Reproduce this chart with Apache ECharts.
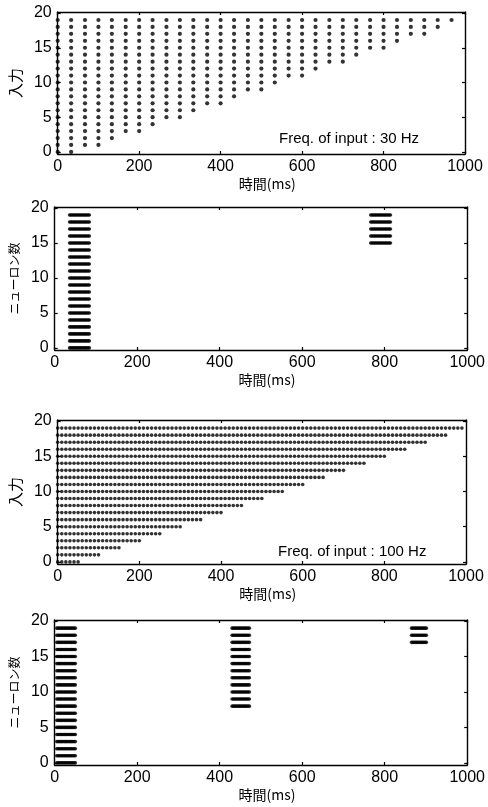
<!DOCTYPE html>
<html>
<head>
<meta charset="utf-8">
<script src="https://cdn.jsdelivr.net/npm/echarts@6/dist/echarts.min.js"></script>
<style>
  html, body { margin: 0; padding: 0; background: #fff; }
  #main { width: 488px; height: 807px; }
</style>
</head>
<body>
<div id="main"></div>
<script>
// tick labels
const xTicks = [0, 200, 400, 600, 800, 1000]
const yTicks = [0, 5, 10, 15, 20]
const neuronIds = [0, 1, 2, 3, 4, 5, 6, 7, 8, 9, 10, 11, 12, 13, 14, 15, 16, 17, 18, 19]

// input at 30 Hz: spike columns and the lowest input that still fires in each
const inputTimes30 = [0, 33, 67, 100, 133, 167, 200, 233, 267, 300, 333, 367, 400, 433, 467,
  500, 533, 567, 600, 633, 667, 700, 733, 767, 800, 833, 867, 900, 933, 967]
const inputFirst30 = [0, 0, 1, 1, 2, 3, 3, 4, 5, 5, 6, 7, 7, 8, 9,
  9, 10, 11, 11, 12, 13, 13, 14, 15, 15, 16, 17, 17, 18, 19]

// input at 100 Hz: spike times and the last spike of each input row
const inputTimes100 = [0, 10, 20, 30, 40, 50, 60, 70, 80, 90, 100, 110, 120, 130, 140, 150, 160, 170, 180, 190,
  200, 210, 220, 230, 240, 250, 260, 270, 280, 290, 300, 310, 320, 330, 340, 350, 360, 370, 380, 390,
  400, 410, 420, 430, 440, 450, 460, 470, 480, 490, 500, 510, 520, 530, 540, 550, 560, 570, 580, 590,
  600, 610, 620, 630, 640, 650, 660, 670, 680, 690, 700, 710, 720, 730, 740, 750, 760, 770, 780, 790,
  800, 810, 820, 830, 840, 850, 860, 870, 880, 890, 900, 910, 920, 930, 940, 950, 960, 970, 980, 990]
const inputLast100 = [50, 100, 150, 200, 250, 300, 350, 400, 450, 500,
  550, 600, 650, 700, 750, 800, 850, 900, 950, 990]

// output bursts, 30 Hz input
const burstTimes30A = [36, 39, 42, 45, 48, 51, 54, 57, 60, 63, 66, 69, 72, 75, 78, 81, 84]
const burstNeurons30A = [0, 1, 2, 3, 4, 5, 6, 7, 8, 9, 10, 11, 12, 13, 14, 15, 16, 17, 18, 19]
const burstTimes30B = [766, 769, 772, 775, 778, 781, 784, 787, 790, 793, 796, 799, 802, 805, 808, 811, 814]
const burstNeurons30B = [15, 16, 17, 18, 19]

// output bursts, 100 Hz input
const burstTimes100A = [5, 8, 11, 14, 17, 20, 23, 26, 29, 32, 35, 38, 41, 44, 47, 50]
const burstNeurons100A = [0, 1, 2, 3, 4, 5, 6, 7, 8, 9, 10, 11, 12, 13, 14, 15, 16, 17, 18, 19]
const burstTimes100B = [430, 433, 436, 439, 442, 445, 448, 451, 454, 457, 460, 463, 466, 469, 472]
const burstNeurons100B = [8, 9, 10, 11, 12, 13, 14, 15, 16, 17, 18, 19]
const burstTimes100C = [865, 868, 871, 874, 877, 880, 883, 886, 889, 892, 895, 898, 901]
const burstNeurons100C = [17, 18, 19]

function columnsData(times, first) {
  const out = []
  times.forEach((t, k) => {
    neuronIds.forEach(n => {
      if (n >= first[k]) out.push([t, n])
    })
  })
  return out
}

function rowsData(times, last) {
  const out = []
  neuronIds.forEach(n => {
    times.forEach(t => {
      if (t <= last[n]) out.push([t, n])
    })
  })
  return out
}

function burstData(times, neurons) {
  const out = []
  neurons.forEach(n => {
    times.forEach(t => out.push([t, n]))
  })
  return out
}

const jp = '"Noto Sans CJK JP", sans-serif'
const num = '"Liberation Sans", Arial, sans-serif'

const panels = [
  { left: 49, top: 12, width: 416, height: 142, yName: '入力', yNameSize: 15, yGap: 26 },
  { left: 50, top: 207, width: 418, height: 143, yName: 'ニューロン数', yNameSize: 12, yGap: 28 },
  { left: 52, top: 420, width: 414, height: 144, yName: '入力', yNameSize: 15, yGap: 29 },
  { left: 54, top: 620, width: 414, height: 145, yName: 'ニューロン数', yNameSize: 12, yGap: 31 }
]

const grid = []
const xAxis = []
const yAxis = []
const lineStyle = { color: '#000', width: 1.4 }
const tick = { inside: true, length: 3, lineStyle: { color: '#000', width: 1.2 } }

panels.forEach((p, i) => {
  grid.push({ left: p.left, top: p.top, width: p.width, height: p.height })
  xAxis.push({
    gridIndex: i, type: 'value', min: 0, max: 1000, interval: 200,
    name: '時間(ms)', nameLocation: 'middle', nameGap: 23,
    nameTextStyle: { fontFamily: jp, fontSize: 14, color: '#000', padding: [0, 0, 0, 12] },
    axisLine: { onZero: false, lineStyle: lineStyle },
    axisTick: tick,
    axisLabel: { fontFamily: num, fontSize: 16, color: '#000', margin: 5, formatter: v => String(v) },
    splitLine: { show: false }
  })
  xAxis.push({
    gridIndex: i, type: 'value', position: 'top', min: 0, max: 1000, interval: 200,
    axisLine: { onZero: false, lineStyle: lineStyle },
    axisTick: tick,
    axisLabel: { show: false },
    splitLine: { show: false }
  })
  yAxis.push({
    gridIndex: i, type: 'value', min: -0.3, max: 20.15,
    name: p.yName, nameLocation: 'middle', nameGap: p.yGap, nameRotate: 90,
    nameTextStyle: { fontFamily: jp, fontSize: p.yNameSize, color: '#000' },
    axisLine: { onZero: false, lineStyle: lineStyle },
    axisTick: Object.assign({ customValues: yTicks }, tick),
    axisLabel: { fontFamily: num, fontSize: 16, color: '#000', margin: 6, customValues: yTicks },
    splitLine: { show: false }
  })
  yAxis.push({
    gridIndex: i, type: 'value', position: 'right', min: -0.3, max: 20.15,
    axisLine: { onZero: false, lineStyle: lineStyle },
    axisTick: Object.assign({ customValues: yTicks }, tick),
    axisLabel: { show: false },
    splitLine: { show: false }
  })
})

function dots(panel, data, size) {
  return {
    type: 'scatter',
    xAxisIndex: panel * 2,
    yAxisIndex: panel * 2,
    data: data,
    symbol: 'circle',
    symbolSize: size,
    itemStyle: { color: '#000' },
    silent: true
  }
}

const series = [
  dots(0, columnsData(inputTimes30, inputFirst30), 4.2),
  dots(1, burstData(burstTimes30A, burstNeurons30A), 3.6),
  dots(1, burstData(burstTimes30B, burstNeurons30B), 3.6),
  dots(2, rowsData(inputTimes100, inputLast100), 3.6),
  dots(3, burstData(burstTimes100A, burstNeurons100A), 3.6),
  dots(3, burstData(burstTimes100B, burstNeurons100B), 3.6),
  dots(3, burstData(burstTimes100C, burstNeurons100C), 3.6)
]

const chart = echarts.init(document.getElementById('main'))
chart.setOption({
  backgroundColor: '#fff',
  animation: false,
  grid: grid,
  xAxis: xAxis,
  yAxis: yAxis,
  graphic: [
    { type: 'text', left: 279, top: 131, style: { text: 'Freq. of input : 30 Hz', font: '15px "Liberation Sans", Arial', fill: '#000' } },
    { type: 'text', left: 278, top: 544, style: { text: 'Freq. of input : 100 Hz', font: '15px "Liberation Sans", Arial', fill: '#000' } }
  ],
  series: series
})
</script>
</body>
</html>
